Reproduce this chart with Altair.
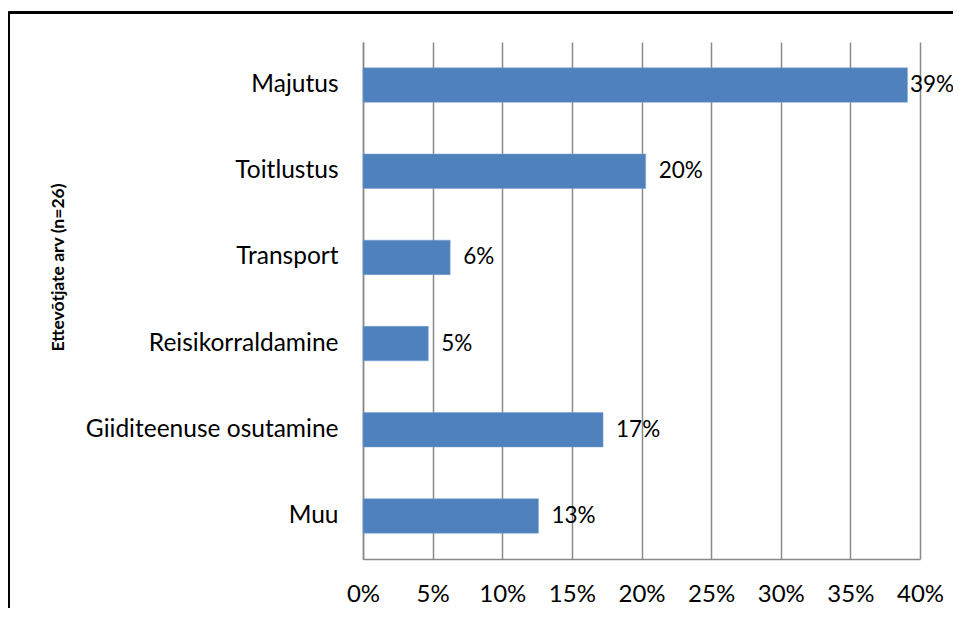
import altair as alt
import pandas as pd

categories = ["Majutus", "Toitlustus", "Transport", "Reisikorraldamine",
              "Giiditeenuse osutamine", "Muu"]
values = [39.1, 20.3, 6.26, 4.69, 17.24, 12.6]
tick_values = [0, 5, 10, 15, 20, 25, 30, 35, 40]
axis_title = "Ettevõtjate arv (n=26)"

df = pd.DataFrame({"cat": categories, "val": values})
df["label"] = [f"{round(v):d}%" for v in values]

FONT = "Lato"
GRID = "#8a8a8a"

y_enc = alt.Y(
    "cat:N", sort=categories,
    scale=alt.Scale(paddingInner=0.6, paddingOuter=0.3),
    axis=alt.Axis(
        title=axis_title, titleFont=FONT, titleFontSize=17.5, titleFontWeight="bold",
        titleColor="#000000", titleAngle=270, titleX=-305, titleY=225,
        titleAlign="center", titleBaseline="middle",
        labelFont=FONT, labelFontSize=24.5, labelColor="#000000", labelPadding=25,
        labelLimit=0, ticks=False, domainColor=GRID, domainWidth=1.5, grid=False,
    ),
)
x_enc = alt.X(
    "val:Q",
    scale=alt.Scale(domain=[0, 40], nice=False),
    axis=alt.Axis(
        title=None, values=tick_values, labelExpr="datum.value + '%'",
        labelFont=FONT, labelFontSize=24, labelColor="#000000", labelPadding=23,
        labelFlush=False, labelOverlap=False,
        ticks=False, domainColor=GRID, domainWidth=1.5,
        grid=True, gridColor=GRID, gridWidth=1.5,
    ),
)

bars = alt.Chart(df).mark_bar(color="#4F81BD", stroke="#7aa0d0", strokeWidth=0.5).encode(
    x=x_enc, y=y_enc
)
# labels keep clear of the right edge of the page (the page is narrower than the chart's frame)
labels = alt.Chart(df).transform_calculate(
    lx="min(datum.val, 38.35)"
).mark_text(
    align="left", baseline="middle", dx=13, font=FONT, fontSize=22.5, color="#000000"
).encode(x="lx:Q", y=alt.Y("cat:N", sort=categories), text="label:N")

frame_top = alt.Chart(df).mark_rule(color="#000000", strokeWidth=2).encode(
    x=alt.value(-354.5), x2=alt.value(700), y=alt.value(-29.5)
)
frame_left = alt.Chart(df).mark_rule(color="#000000", strokeWidth=2).encode(
    x=alt.value(-354.5), y=alt.value(-29.5), y2=alt.value(700)
)

chart = alt.layer(bars, labels, frame_top, frame_left).properties(
    width=557, height=517,
    autosize=alt.AutoSizeParams(type="none"),
    padding={"left": 355, "top": 34, "right": 33, "bottom": 49},
    background="#ffffff",
).configure_view(stroke=None)

chart.save("out.html", embed_options={"renderer": "svg", "actions": False})
